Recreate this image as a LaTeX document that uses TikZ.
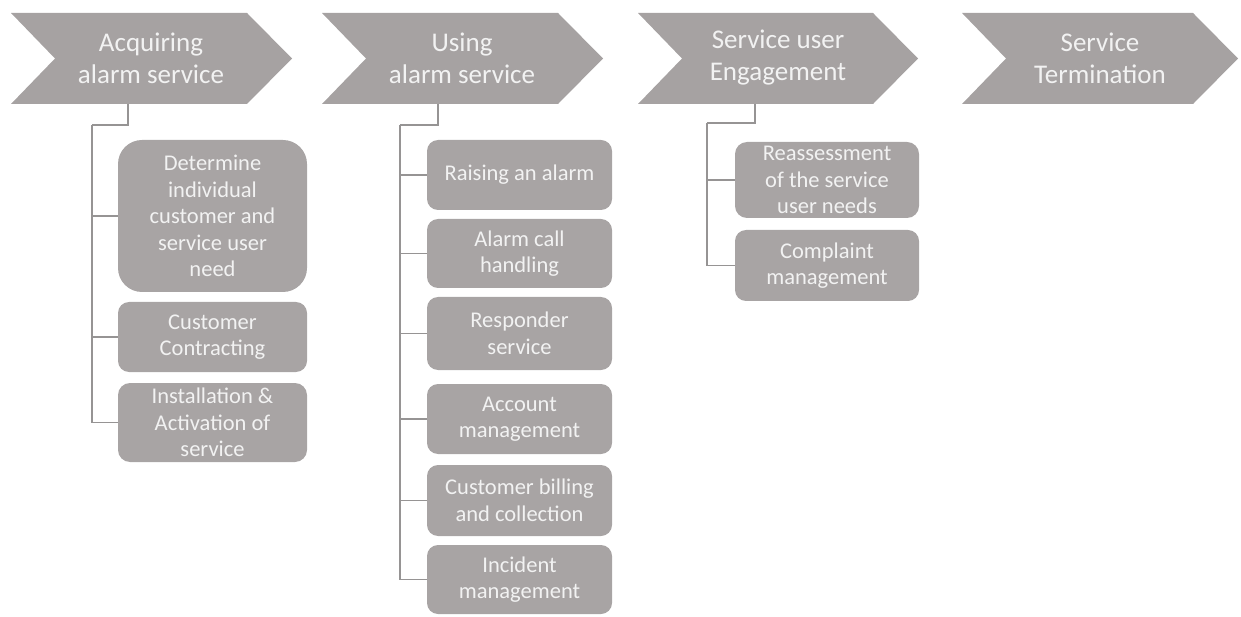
\documentclass[tikz,border=0pt]{standalone}
\usepackage{fontspec}
\setmainfont{Carlito}
\definecolor{chevfill}{HTML}{A6A2A2}
\definecolor{boxfill}{HTML}{A8A4A4}
\definecolor{txt}{HTML}{F2F2F2}
\definecolor{linec}{HTML}{969494}
\tikzset{
  chev/.style={fill=chevfill},
  chevtext/.style={text=txt, align=center, inner sep=0pt, font=\fontsize{27}{32}\selectfont},
  box/.style={fill=boxfill, text=txt, align=center, inner sep=2pt, font=\fontsize{22.5}{26.5}\selectfont},
  conn/.style={draw=linec, line width=1.5pt}
}
\begin{document}
\begin{tikzpicture}[x=1pt,y=-1pt]
\useasboundingbox (0,0) rectangle (1241,617);
% chevrons
\path[chev] (11,13) -- (247,13) -- (292,58.5) -- (247,104) -- (11,104) -- (55,58.5) -- cycle;
\path[chev] (322,13) -- (558,13) -- (603,58.5) -- (558,104) -- (322,104) -- (366,58.5) -- cycle;
\path[chev] (638,13) -- (873,13) -- (918,58.5) -- (873,104) -- (638,104) -- (682,58.5) -- cycle;
\path[chev] (962,13) -- (1193,13) -- (1238,58.5) -- (1193,104) -- (962,104) -- (1006,58.5) -- cycle;
\node[chevtext] (c1) at (151,58) {Acquiring\\alarm service};
\node[chevtext] (c2) at (462,58) {Using\\alarm service};
\node[chevtext] (c3) at (778,58) {Service user\\Engagement};
\node[chevtext] (c4) at (1100,58) {Service\\Termination};
% connector anchors
\coordinate (c1b) at (128,104);
\coordinate (c2b) at (438,104);
\coordinate (c3b) at (755,104);
\coordinate (t1) at (92,125);
\coordinate (t2) at (400,125);
\coordinate (t3) at (707,123);
% column 1
\node[box, rounded corners=24pt, minimum width=189, minimum height=152] (b11) at (212.5,216) {Determine\\individual\\customer and\\service user\\need};
\node[box, rounded corners=11pt, minimum width=189, minimum height=70] (b12) at (212.5,337) {Customer\\Contracting};
\node[box, rounded corners=12pt, minimum width=189, minimum height=79] (b13) at (212.5,422.5) {Installation \&\\Activation of\\service};
% column 2
\node[box, rounded corners=11pt, minimum width=185, minimum height=70] (b21) at (519.5,175) {Raising an alarm};
\node[box, rounded corners=11pt, minimum width=185, minimum height=69] (b22) at (519.5,253.5) {Alarm call\\handling};
\node[box, rounded corners=11pt, minimum width=185, minimum height=73] (b23) at (519.5,333.5) {Responder\\service};
\node[box, rounded corners=11pt, minimum width=185, minimum height=70] (b24) at (519.5,419) {Account\\management};
\node[box, rounded corners=11pt, minimum width=185, minimum height=71] (b25) at (519.5,500.5) {Customer billing\\and collection};
\node[box, rounded corners=11pt, minimum width=185, minimum height=69] (b26) at (519.5,579.5) {Incident\\management};
% column 3
\node[box, rounded corners=12pt, minimum width=184, minimum height=76] (b31) at (827,180) {Reassessment\\of the service\\user needs};
\node[box, rounded corners=11pt, minimum width=184, minimum height=71] (b32) at (827,265.5) {Complaint\\management};
% connectors
\draw[conn] (c1b) |- (t1);
\draw[conn] (t1) |- (b11.west);
\draw[conn] (t1) |- (b12.west);
\draw[conn] (t1) |- (b13.west);
\draw[conn] (c2b) |- (t2);
\draw[conn] (t2) |- (b21.west);
\draw[conn] (t2) |- (b22.west);
\draw[conn] (t2) |- (b23.west);
\draw[conn] (t2) |- (b24.west);
\draw[conn] (t2) |- (b25.west);
\draw[conn] (t2) |- (b26.west);
\draw[conn] (c3b) |- (t3);
\draw[conn] (t3) |- (b31.west);
\draw[conn] (t3) |- (b32.west);
\end{tikzpicture}
\end{document}
